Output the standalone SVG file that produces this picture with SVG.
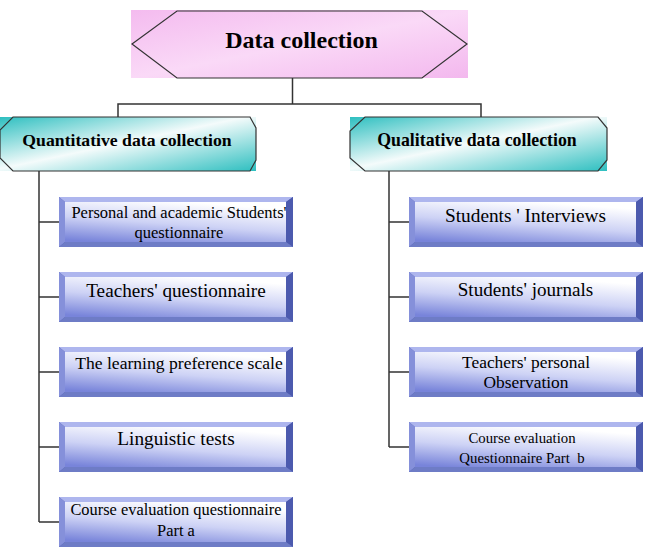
<svg xmlns="http://www.w3.org/2000/svg" xmlns:xlink="http://www.w3.org/1999/xlink" width="649" height="557" viewBox="0 0 649 557">
<defs>
<linearGradient id="pink" x1="0" y1="0" x2="1" y2="1">
<stop offset="0" stop-color="#F4BBEF"/><stop offset="0.5" stop-color="#FAD9F7"/><stop offset="1" stop-color="#F3B8EE"/>
</linearGradient>
<linearGradient id="teal" x1="0" y1="0" x2="1" y2="1">
<stop offset="0" stop-color="#2EBFC0"/><stop offset="0.48" stop-color="#F4FBFB"/><stop offset="1" stop-color="#2EBFC0"/>
</linearGradient>
<linearGradient id="face" x1="0.15" y1="1" x2="0.55" y2="0">
<stop offset="0" stop-color="#7884DA"/><stop offset="0.5" stop-color="#CDD2F5"/><stop offset="1" stop-color="#FFFFFF"/>
</linearGradient>
<symbol id="bb" viewBox="0 0 234 50" width="234" height="50">
<rect x="0" y="0" width="234" height="50" fill="#5563B5"/>
<polygon points="0,0 234,0 227,5 6,5" fill="#AEB6EE"/>
<polygon points="0,0 6,5 6,45 0,50" fill="#8590DA"/>
<polygon points="234,0 234,50 227,45 227,5" fill="#4C5AAE"/>
<polygon points="0,50 6,45 227,45 234,50" fill="#6E7CC6"/>
<rect x="6" y="5" width="221" height="40" fill="url(#face)"/>
</symbol>
</defs>
<style>
.ln{fill:none;stroke:#333;stroke-width:1.5}
.ol{stroke:#333;stroke-width:1.2}
text{font-family:"Liberation Serif","Times New Roman",serif;fill:#000;text-anchor:middle}
.b{font-weight:bold}
</style>
<rect width="649" height="557" fill="#fff"/>
<g id="connectors">
<path class="ln" d="M292.5,78 V104"/>
<path class="ln" d="M118,117 V104 H481 V117"/>
<path class="ln" d="M39,171 V522 M39,222 H59 M39,297 H59 M39,372 H59 M39,447 H59 M39,522 H59"/>
<path class="ln" d="M389,171 V447 M389,222 H409 M389,297 H409 M389,372 H409 M389,447 H409"/>
</g>
<g id="root">
<rect x="131" y="10" width="337" height="68" fill="url(#pink)"/>
<polygon class="ol" points="132,44 177,11 422,11 467,44 422,78 177,78" fill="url(#pink)"/>
<text class="b" x="301.5" y="48" font-size="24">Data collection</text>
</g>
<g id="quant">
<rect x="0" y="117" width="256" height="54" fill="url(#teal)"/>
<polygon class="ol" points="13,117 250,117 256,128 256,160 250,171 13,171 0,158 0,130" fill="url(#teal)"/>
<text class="b" x="127" y="146" font-size="17.7">Quantitative data collection</text>
</g>
<g id="qual">
<rect x="350" y="117" width="257" height="54" fill="url(#teal)"/>
<polygon class="ol" points="365,117 598,117 607,128 607,160 598,171 365,171 350,158 350,131" fill="url(#teal)"/>
<text class="b" x="477" y="146" font-size="17.8">Qualitative data collection</text>
</g>
<g id="q1">
<use xlink:href="#bb" x="59" y="197"/>
<text x="179" y="218" font-size="16.5">Personal and academic Students'</text>
<text x="179" y="238" font-size="16.5">questionnaire</text>
</g>
<g id="q2">
<use xlink:href="#bb" x="59" y="272"/>
<text x="176" y="297" font-size="19.2">Teachers' questionnaire</text>
</g>
<g id="q3">
<use xlink:href="#bb" x="59" y="347"/>
<text x="179" y="369" font-size="17.6">The learning preference scale</text>
</g>
<g id="q4">
<use xlink:href="#bb" x="59" y="422"/>
<text x="176" y="445" font-size="19.3">Linguistic tests</text>
</g>
<g id="q5">
<use xlink:href="#bb" x="59" y="497"/>
<text x="176" y="515" font-size="16.4">Course evaluation questionnaire</text>
<text x="176" y="536" font-size="16.4">Part a</text>
</g>
<g id="l1">
<use xlink:href="#bb" x="409" y="197"/>
<text x="525.5" y="222" font-size="19.3">Students ' Interviews</text>
</g>
<g id="l2">
<use xlink:href="#bb" x="409" y="272"/>
<text x="525.5" y="296" font-size="19.1">Students' journals</text>
</g>
<g id="l3">
<use xlink:href="#bb" x="409" y="347"/>
<text x="526" y="368" font-size="17.4">Teachers' personal</text>
<text x="526" y="388" font-size="17.4">Observation</text>
</g>
<g id="l4">
<use xlink:href="#bb" x="409" y="422"/>
<text x="522" y="443" font-size="14.8">Course evaluation</text>
<text x="522" y="463" font-size="14.8">Questionnaire Part&#160; b</text>
</g>
</svg>
